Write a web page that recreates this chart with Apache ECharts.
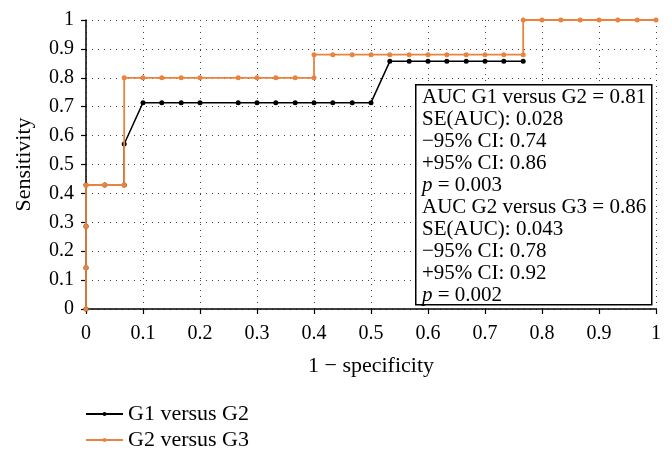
<!DOCTYPE html>
<html><head><meta charset="utf-8">
<script src="https://cdn.jsdelivr.net/npm/echarts@6/dist/echarts.min.js"></script>
<style>html,body{margin:0;padding:0;background:#fff}#c{width:672px;height:456px}</style>
</head><body><div id="c"></div>
<script>
var seriesNames = ['G1 versus G2', 'G2 versus G3'];
var g1x = [0, 0, 0, 0, 0.033, 0.067, 0.067, 0.1, 0.133, 0.167, 0.2, 0.267, 0.3, 0.333, 0.367, 0.4, 0.433, 0.467, 0.5, 0.533, 0.567, 0.6, 0.633, 0.667, 0.7, 0.733, 0.767];
var g1y = [0, 0.143, 0.286, 0.429, 0.429, 0.429, 0.571, 0.714, 0.714, 0.714, 0.714, 0.714, 0.714, 0.714, 0.714, 0.714, 0.714, 0.714, 0.714, 0.857, 0.857, 0.857, 0.857, 0.857, 0.857, 0.857, 0.857];
var g2x = [0, 0, 0, 0, 0.033, 0.067, 0.067, 0.1, 0.133, 0.167, 0.2, 0.267, 0.3, 0.333, 0.367, 0.4, 0.4, 0.433, 0.467, 0.5, 0.533, 0.567, 0.6, 0.633, 0.667, 0.7, 0.733, 0.767, 0.767, 0.8, 0.833, 0.867, 0.9, 0.933, 0.967, 1.0];
var g2y = [0, 0.143, 0.286, 0.429, 0.429, 0.429, 0.8, 0.8, 0.8, 0.8, 0.8, 0.8, 0.8, 0.8, 0.8, 0.8, 0.88, 0.88, 0.88, 0.88, 0.88, 0.88, 0.88, 0.88, 0.88, 0.88, 0.88, 0.88, 1, 1, 1, 1, 1, 1, 1, 1];
var statsLines = [
  'AUC G1 versus G2 = 0.81', 'SE(AUC): 0.028', '\u221295% CI: 0.74', '+95% CI: 0.86', '{i|p} = 0.003',
  'AUC G2 versus G3 = 0.86', 'SE(AUC): 0.043', '\u221295% CI: 0.78', '+95% CI: 0.92', '{i|p} = 0.002'
];

function zip(xs, ys) { return xs.map(function (x, i) { return [x, ys[i]]; }); }
var FONT = 'Liberation Serif';
var chart = echarts.init(document.getElementById('c'));
var axisCommon = {
  type: 'value', min: 0, max: 1, interval: 0.1,
  axisLine: { show: true, lineStyle: { color: '#000', width: 1.5 } },
  axisTick: { show: true, inside: false, length: 5, lineStyle: { color: '#000', width: 1.2 } },
  axisLabel: { color: '#000', fontSize: 20, fontFamily: FONT, margin: 12, formatter: function (v) { return +v.toFixed(1) + ''; } },
  splitLine: { show: true, lineStyle: { color: '#444', width: 1, type: [1, 5] } },
  nameLocation: 'middle',
  nameTextStyle: { color: '#000', fontSize: 22, fontFamily: FONT }
};
chart.setOption({
  animation: false,
  grid: { left: 86, right: 16, top: 20, bottom: 147 },
  xAxis: Object.assign({}, axisCommon, { name: '1 \u2212 specificity', nameGap: 46,
    axisLabel: Object.assign({}, axisCommon.axisLabel, { margin: 15 }) }),
  yAxis: Object.assign({}, axisCommon, { name: 'Sensitivity', nameGap: 51 }),
  legend: {
    orient: 'vertical', left: 80, top: 398, itemWidth: 37, itemHeight: 5, itemGap: 4,
    textStyle: { color: '#000', fontSize: 22, fontFamily: FONT },
    data: seriesNames
  },
  series: [
    { name: seriesNames[0], type: 'line', data: zip(g1x, g1y), symbol: 'circle', symbolSize: 5,
      lineStyle: { color: '#000', width: 1.5 }, itemStyle: { color: '#000' }, z: 2 },
    { name: seriesNames[1], type: 'line', data: zip(g2x, g2y), symbol: 'circle', symbolSize: 5,
      lineStyle: { color: '#e8843f', width: 1.8 }, itemStyle: { color: '#e8843f' }, z: 3 }
  ],
  graphic: [
    { type: 'rect', left: 415, top: 84, z: 10,
      shape: { width: 236, height: 220 },
      style: { fill: '#fff', stroke: '#000', lineWidth: 1.5 } },
    { type: 'text', left: 422, top: 86, z: 11,
      style: { text: statsLines.join('\n'), fill: '#000', fontSize: 21, fontFamily: FONT, lineHeight: 22,
        rich: { i: { fontStyle: 'italic', fontSize: 21, fontFamily: FONT, lineHeight: 22 } } } }
  ]
});
</script></body></html>
